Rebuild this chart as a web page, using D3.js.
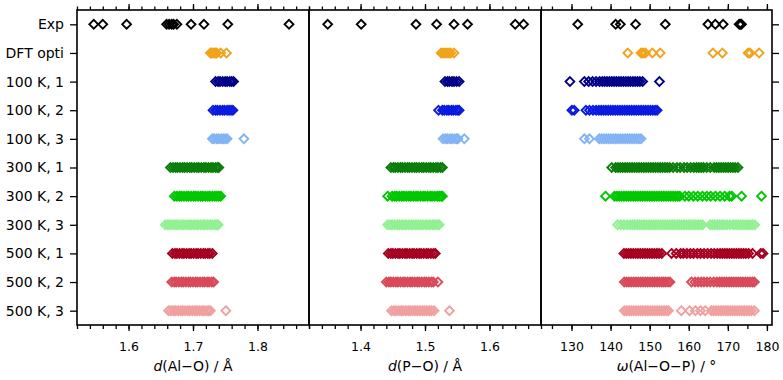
<!DOCTYPE html>
<html>
<head>
<meta charset="utf-8">
<script src="https://cdn.jsdelivr.net/npm/d3@7"></script>
<style>
  body { margin: 0; background: #fff; }
  text { font-family: "DejaVu Sans", Arial, sans-serif; }
</style>
</head>
<body>
<svg id="chart" width="783" height="380"></svg>
<script>
// row labels and colours
const rows = ["Exp", "DFT opti", "100 K, 1", "100 K, 2", "100 K, 3", "300 K, 1", "300 K, 2", "300 K, 3", "500 K, 1", "500 K, 2", "500 K, 3"];
const rowColors = ["#000000", "#f2a31b", "#000088", "#0a1ae0", "#82b4f5", "#0a7d0a", "#00c800", "#92f192", "#a50021", "#d84a5a", "#f0a0a0"];

// d(Al-O) / A
const aloExp = [1.546, 1.560, 1.597, 1.659, 1.663, 1.667, 1.670, 1.675, 1.697, 1.717, 1.754, 1.849];
const aloDft = [1.727, 1.729, 1.731, 1.733, 1.735, 1.737, 1.743, 1.752];
const alo100a = [1.735, 1.739, 1.742, 1.746, 1.750, 1.753, 1.757, 1.760, 1.763];
const alo100b = [1.731, 1.735, 1.738, 1.742, 1.746, 1.749, 1.753, 1.756, 1.759, 1.762];
const alo100c = [1.730, 1.733, 1.737, 1.740, 1.744, 1.747, 1.750, 1.753, 1.779];
const alo300a = [1.665, 1.669, 1.673, 1.676, 1.680, 1.684, 1.687, 1.691, 1.695, 1.698, 1.702, 1.706, 1.709, 1.713, 1.717, 1.720, 1.724, 1.728, 1.731, 1.735, 1.738, 1.740];
const alo300b = [1.671, 1.675, 1.679, 1.682, 1.686, 1.690, 1.693, 1.697, 1.701, 1.704, 1.708, 1.712, 1.715, 1.719, 1.723, 1.726, 1.730, 1.734, 1.737, 1.740, 1.743];
const alo300c = [1.657, 1.661, 1.664, 1.668, 1.672, 1.675, 1.679, 1.683, 1.686, 1.690, 1.694, 1.697, 1.701, 1.705, 1.708, 1.712, 1.716, 1.719, 1.723, 1.727, 1.730, 1.734, 1.737, 1.739];
const alo500a = [1.668, 1.672, 1.675, 1.679, 1.683, 1.686, 1.690, 1.694, 1.697, 1.701, 1.705, 1.708, 1.712, 1.716, 1.719, 1.723, 1.726, 1.730];
const alo500b = [1.667, 1.671, 1.674, 1.678, 1.682, 1.685, 1.689, 1.693, 1.696, 1.700, 1.704, 1.707, 1.711, 1.715, 1.718, 1.722, 1.725, 1.729, 1.732];
const alo500c = [1.662, 1.666, 1.670, 1.673, 1.677, 1.681, 1.684, 1.688, 1.692, 1.695, 1.699, 1.703, 1.706, 1.710, 1.714, 1.717, 1.721, 1.724, 1.727, 1.751];

// d(P-O) / A
const poExp = [1.349, 1.401, 1.486, 1.518, 1.545, 1.566, 1.640, 1.653];
const poDft = [1.525, 1.528, 1.531, 1.534, 1.537, 1.540, 1.545];
const po100a = [1.531, 1.535, 1.538, 1.542, 1.545, 1.549, 1.553];
const po100b = [1.521, 1.527, 1.530, 1.534, 1.537, 1.541, 1.544, 1.548, 1.551, 1.553];
const po100c = [1.528, 1.532, 1.535, 1.539, 1.542, 1.546, 1.549, 1.551, 1.561];
const po300a = [1.447, 1.451, 1.454, 1.458, 1.462, 1.465, 1.469, 1.473, 1.476, 1.480, 1.484, 1.487, 1.491, 1.495, 1.498, 1.502, 1.506, 1.509, 1.513, 1.517, 1.520, 1.524, 1.527];
const po300b = [1.442, 1.449, 1.453, 1.456, 1.460, 1.464, 1.467, 1.471, 1.475, 1.478, 1.482, 1.486, 1.489, 1.493, 1.497, 1.500, 1.504, 1.508, 1.511, 1.515, 1.519, 1.522, 1.525, 1.527];
const po300c = [1.442, 1.446, 1.449, 1.453, 1.457, 1.460, 1.464, 1.468, 1.471, 1.475, 1.479, 1.482, 1.486, 1.490, 1.493, 1.497, 1.501, 1.504, 1.508, 1.512, 1.515, 1.519, 1.522];
const po500a = [1.443, 1.447, 1.450, 1.454, 1.458, 1.461, 1.465, 1.469, 1.472, 1.476, 1.480, 1.483, 1.487, 1.491, 1.494, 1.498, 1.502, 1.505, 1.509, 1.513, 1.516];
const po500b = [1.440, 1.444, 1.447, 1.451, 1.455, 1.458, 1.462, 1.466, 1.469, 1.473, 1.477, 1.480, 1.484, 1.488, 1.491, 1.495, 1.499, 1.502, 1.506, 1.510, 1.513, 1.520];
const po500c = [1.448, 1.452, 1.455, 1.459, 1.463, 1.466, 1.470, 1.474, 1.477, 1.481, 1.485, 1.488, 1.492, 1.496, 1.499, 1.503, 1.507, 1.510, 1.514, 1.538];

// omega(Al-O-P) / deg
const wExp = [131.6, 141.3, 142.5, 146.4, 154.0, 164.9, 166.8, 168.8, 172.9, 173.2, 173.5];
const wDft = [144.4, 147.8, 148.3, 148.9, 150.7, 152.7, 166.2, 168.6, 175.2, 175.7, 178.0];
const w100a = [129.6, 133.3, 134.4, 135.4, 136.3, 137.2, 137.9, 138.5, 139.1, 139.7, 140.3, 140.9, 141.5, 142.1, 142.7, 143.3, 143.9, 144.5, 145.1, 145.7, 146.3, 146.9, 147.5, 148.2, 152.5];
const w100b = [130.1, 130.7, 133.7, 134.6, 135.5, 136.3, 137.0, 137.6, 138.2, 138.8, 139.4, 140.0, 140.6, 141.2, 141.8, 142.4, 143.0, 143.6, 144.2, 144.8, 145.4, 146.0, 146.6, 147.2, 147.8, 148.4, 149.0, 149.6, 150.2, 150.8, 151.4, 151.9];
const w100c = [133.3, 134.6, 137.1, 137.7, 138.3, 138.9, 139.5, 140.1, 140.7, 141.3, 141.9, 142.5, 143.1, 143.7, 144.3, 144.9, 145.5, 146.1, 146.7, 147.3, 147.8];
const w300a = [140.3, 141.3, 141.9, 142.5, 143.1, 143.7, 144.3, 144.9, 145.5, 146.1, 146.7, 147.3, 147.9, 148.5, 149.1, 149.7, 150.3, 150.9, 151.5, 152.1, 152.7, 153.3, 153.9, 154.5, 155.1, 156.0, 157.0, 157.8, 158.8, 159.6, 160.5, 161.3, 162.0, 162.6, 163.2, 163.8, 164.6, 165.5, 166.5, 167.1, 167.7, 168.3, 168.9, 169.5, 170.1, 170.7, 171.3, 171.9, 172.6];
const w300b = [138.7, 141.0, 141.6, 142.2, 142.8, 143.4, 144.0, 144.6, 145.2, 145.8, 146.4, 147.0, 147.6, 148.2, 148.8, 149.4, 150.0, 150.6, 151.2, 151.8, 152.4, 153.0, 153.6, 154.2, 154.8, 155.4, 156.0, 156.6, 157.2, 157.7, 159.0, 160.0, 161.2, 162.3, 163.5, 164.6, 165.6, 166.8, 168.0, 169.2, 170.4, 171.0, 173.5, 178.6];
const w300c = [141.8, 142.6, 143.4, 144.2, 145.0, 145.6, 146.2, 146.8, 147.4, 148.0, 148.6, 149.2, 149.8, 150.4, 151.0, 151.6, 152.2, 152.8, 153.4, 154.0, 154.6, 155.2, 155.8, 156.4, 157.0, 157.6, 158.2, 158.8, 159.4, 160.0, 160.6, 161.2, 161.8, 162.4, 163.0, 163.5, 165.5, 166.1, 166.7, 167.3, 167.9, 168.5, 169.1, 169.8, 170.6, 171.4, 172.1, 172.7, 173.3, 173.9, 174.5, 175.1, 175.7, 176.3, 176.9];
const w500a = [143.4, 144.0, 144.6, 145.2, 145.8, 146.4, 147.0, 147.6, 148.2, 148.8, 149.4, 150.0, 150.6, 151.2, 151.8, 152.4, 153.1, 155.6, 156.8, 157.9, 158.6, 159.5, 160.4, 161.2, 162.2, 163.0, 163.9, 164.8, 165.7, 166.5, 167.3, 168.0, 168.6, 169.2, 169.8, 170.4, 171.0, 171.6, 172.2, 172.8, 173.4, 174.0, 174.6, 175.3, 176.3, 178.4, 179.0];
const w500b = [143.5, 144.1, 144.7, 145.3, 145.9, 146.5, 147.1, 147.7, 148.3, 148.9, 149.5, 150.1, 150.7, 151.3, 151.9, 152.5, 153.1, 153.6, 154.1, 154.7, 155.2, 160.7, 161.6, 162.4, 163.2, 163.9, 164.7, 165.5, 166.4, 167.2, 167.9, 168.5, 169.1, 169.7, 170.3, 170.9, 171.5, 172.1, 172.7, 173.3, 173.9, 174.5, 175.1, 175.7, 176.3, 176.8];
const w500c = [143.5, 144.1, 144.7, 145.3, 145.9, 146.5, 147.1, 147.7, 148.3, 148.9, 149.5, 150.1, 150.7, 151.3, 151.9, 152.5, 153.1, 153.7, 154.3, 154.8, 158.1, 160.2, 161.7, 163.0, 164.2, 165.8, 166.4, 167.0, 167.6, 168.2, 168.8, 169.4, 170.0, 170.6, 171.2, 171.8, 172.4, 173.0, 173.6, 174.2, 174.8, 175.4, 176.0, 176.8];

// major tick labels
const aloTicks = [1.6, 1.7, 1.8];
const poTicks = [1.4, 1.5, 1.6];
const wTicks = [130, 140, 150, 160, 170, 180];

const panels = [
    { x0: 77, x1: 309, domain: [1.52, 1.88], major: aloTicks, minorCount: 18, fmt: d3.format(".1f"),
      title: ["d", "(Al\u2212O) / \u00c5"], titleShift: 0,
      series: [aloExp, aloDft, alo100a, alo100b, alo100c, alo300a, alo300b, alo300c, alo500a, alo500b, alo500c] },
    { x0: 309, x1: 541, domain: [1.32, 1.68], major: poTicks, minorCount: 18, fmt: d3.format(".1f"),
      title: ["d", "(P\u2212O) / \u00c5"], titleShift: 0,
      series: [poExp, poDft, po100a, po100b, po100c, po300a, po300b, po300c, po500a, po500b, po500c] },
    { x0: 541, x1: 772, domain: [122.2, 181.3], major: wTicks, minorCount: 12, fmt: d3.format("d"),
      title: ["\u03c9", "(Al\u2212O\u2212P) / \u00b0"], titleShift: 10,
      series: [wExp, wDft, w100a, w100b, w100c, w300a, w300b, w300c, w500a, w500b, w500c] }
];

const plotTop = 10, plotBottom = 325, r = 4.4;
const svg = d3.select("#chart");

const y = d3.scalePoint().domain(rows).range([plotTop, plotBottom]).padding(0.5);
const diamond = `M0,${-r}L${r},0L0,${r}L${-r},0Z`;

panels.forEach(p => {
    const x = d3.scaleLinear().domain(p.domain).range([p.x0, p.x1]);
    const minor = x.ticks(p.minorCount);

    // markers
    p.series.forEach((vals, i) => {
        svg.append("g")
            .selectAll("path")
            .data(vals)
            .join("path")
            .attr("d", diamond)
            .attr("transform", d => "translate(" + x(d) + "," + y(rows[i]) + ")")
            .attr("fill", "none")
            .attr("stroke", rowColors[i])
            .attr("stroke-width", 1.9);
    });

    // bottom axis: minor then major
    svg.append("g").attr("transform", "translate(0," + plotBottom + ")")
        .call(d3.axisBottom(x).tickValues(minor).tickSize(4).tickFormat(""));
    svg.append("g").attr("transform", "translate(0," + plotBottom + ")")
        .call(d3.axisBottom(x).tickValues(p.major).tickSize(6).tickPadding(11).tickFormat(p.fmt))
        .selectAll("text").attr("font-size", 12.5).attr("fill", "#000");

    // top axis, no labels
    svg.append("g").attr("transform", "translate(0," + plotTop + ")")
        .call(d3.axisTop(x).tickValues(minor).tickSize(3.5).tickFormat(""));
    svg.append("g").attr("transform", "translate(0," + plotTop + ")")
        .call(d3.axisTop(x).tickValues(p.major).tickSize(6).tickFormat(""));

    // frame
    svg.append("rect")
        .attr("x", p.x0).attr("y", plotTop)
        .attr("width", p.x1 - p.x0).attr("height", plotBottom - plotTop)
        .attr("fill", "none").attr("stroke", "#000").attr("stroke-width", 1.6);

    // axis title
    const t = svg.append("text")
        .attr("x", (p.x0 + p.x1) / 2 + p.titleShift)
        .attr("y", 371)
        .attr("text-anchor", "middle")
        .attr("font-size", 14);
    t.append("tspan").attr("font-style", "italic").text(p.title[0]);
    t.append("tspan").text(p.title[1]);
});

// row axis on the left, plain ticks on the right
svg.append("g").attr("transform", "translate(77,0)")
    .call(d3.axisLeft(y).tickSize(7).tickPadding(6))
    .selectAll("text").attr("font-size", 14).attr("fill", "#000");
svg.append("g").attr("transform", "translate(772,0)")
    .call(d3.axisRight(y).tickSize(7).tickFormat(""));

svg.selectAll(".domain").remove();
svg.selectAll(".tick line").attr("stroke", "#000").attr("stroke-width", 1.3);
</script>
</body>
</html>
